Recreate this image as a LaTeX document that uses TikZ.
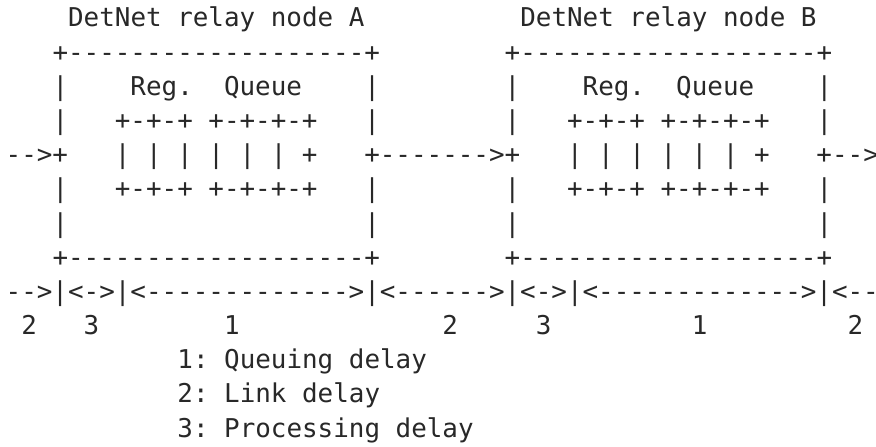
\documentclass[tikz,border=0pt]{standalone}
\usepackage{fontspec}
\setmonofont{DejaVu Sans Mono}
\definecolor{ink}{RGB}{40,40,40}
\begin{document}
\begin{tikzpicture}[x=1pt,y=1pt,
  line/.style={anchor=base west, inner sep=0pt, outer sep=0pt, text=ink,
    font=\ttfamily\fontsize{25.9}{34}\selectfont}]
  % page area
  \fill[white] (0,0) rectangle (876,447);
  \useasboundingbox (0,0) rectangle (876,447);
  % character grid: column c starts at 5.7 + c*15.61, row r has its baseline at 447-27-r*34.17
  \frenchspacing
  \node[line] (title)  at (5.7+4*15.61, 447-27-0*34.17) {DetNet~relay~node~A~~~~~~~~~~DetNet~relay~node~B};
  \node[line] (top)    at (5.7+3*15.61, 447-27-1*34.17) {+-------------------+~~~~~~~~+-------------------+};
  \node[line] (labels) at (5.7+3*15.61, 447-27-2*34.17) {|~~~~Reg.~~Queue~~~~|~~~~~~~~|~~~~Reg.~~Queue~~~~|};
  \node[line] (qtop)   at (5.7+3*15.61, 447-27-3*34.17) {|~~~+-+-+~+-+-+-+~~~|~~~~~~~~|~~~+-+-+~+-+-+-+~~~|};
  \node[line] (flow)   at (5.7+0*15.61, 447-27-4*34.17) {-->+~~~|~|~|~|~|~|~+~~~+------->+~~~|~|~|~|~|~|~+~~~+-->};
  \node[line] (qbot)   at (5.7+3*15.61, 447-27-5*34.17) {|~~~+-+-+~+-+-+-+~~~|~~~~~~~~|~~~+-+-+~+-+-+-+~~~|};
  \node[line] (side)   at (5.7+3*15.61, 447-27-6*34.17) {|~~~~~~~~~~~~~~~~~~~|~~~~~~~~|~~~~~~~~~~~~~~~~~~~|};
  \node[line] (bottom) at (5.7+3*15.61, 447-27-7*34.17) {+-------------------+~~~~~~~~+-------------------+};
  \node[line] (spans)  at (5.7+0*15.61, 447-27-8*34.17) {-->|<->|<------------->|<------>|<->|<------------->|<--};
  \node[line] (marks)  at (5.7+1*15.61, 447-27-9*34.17) {2~~~3~~~~~~~~1~~~~~~~~~~~~~2~~~~~3~~~~~~~~~1~~~~~~~~~2};
  \node[line] (key1)   at (5.7+11*15.61, 447-27-10*34.17) {1:~Queuing~delay};
  \node[line] (key2)   at (5.7+11*15.61, 447-27-11*34.17) {2:~Link~delay};
  \node[line] (key3)   at (5.7+11*15.61, 447-27-12*34.17) {3:~Processing~delay};
\end{tikzpicture}
\end{document}
